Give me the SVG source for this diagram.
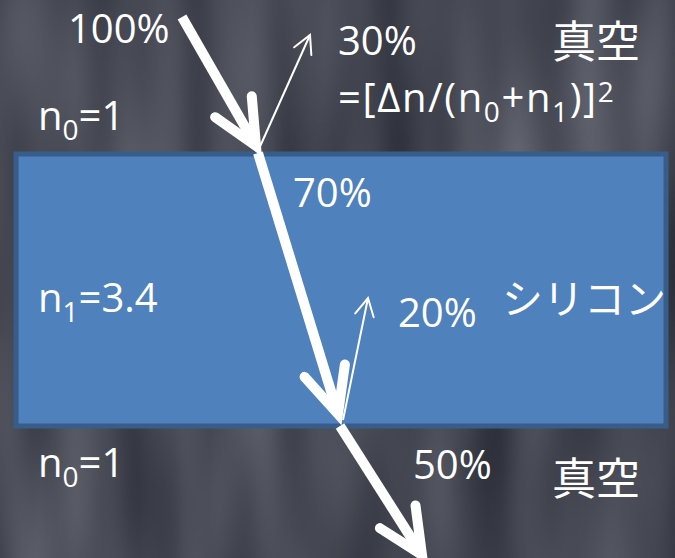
<svg xmlns="http://www.w3.org/2000/svg" width="675" height="558" viewBox="0 0 675 558">
<style>
  .t { font-family: "Open Sans", "Noto Sans", "Liberation Sans", sans-serif; font-size: 40px; fill: #ffffff; }
  .j { font-family: "Noto Sans CJK JP", "Noto Sans", sans-serif; fill: #ffffff; }
  .thick { stroke: #ffffff; stroke-width: 10; fill: none; stroke-linecap: butt; }
  .thin { stroke: #ffffff; stroke-width: 2; fill: none; }
</style>
<defs>
  <filter id="tex" x="0" y="0" width="100%" height="100%" color-interpolation-filters="sRGB">
    <feTurbulence type="fractalNoise" baseFrequency="0.014 0.003" numOctaves="2" seed="7"/>
    <feColorMatrix type="matrix" values="0.32 0 0 0 0.115  0.32 0 0 0 0.125  0.32 0 0 0 0.165  0 0 0 0 1"/>
  </filter>
  <marker id="bigHead" markerUnits="userSpaceOnUse" orient="auto" overflow="visible" markerWidth="1" markerHeight="1" refX="0" refY="0">
    <path d="M -45.3 -21.1 L 0 0 L -45.3 21.1" fill="none" stroke="#ffffff" stroke-width="10" stroke-linecap="round" stroke-linejoin="miter"/>
  </marker>
  <marker id="smallHead" markerUnits="userSpaceOnUse" orient="auto" overflow="visible" markerWidth="1" markerHeight="1" refX="0" refY="0">
    <path d="M -17.7 -9.4 L 0 0 L -17.7 9.4" fill="none" stroke="#ffffff" stroke-width="2" stroke-linecap="round"/>
  </marker>
</defs>

<rect id="background" x="0" y="0" width="675" height="558" fill="#40444f" filter="url(#tex)"/>

<g id="silicon">
  <rect x="16" y="154" width="650" height="272" fill="#4f81bd" stroke="#385d8a" stroke-width="5"/>
</g>

<g id="connectors">
  <line class="thick" x1="182" y1="17" x2="256" y2="146" marker-end="url(#bigHead)"/>
  <line class="thin" x1="258" y1="151" x2="310" y2="35" marker-end="url(#smallHead)"/>
  <line class="thick" x1="258" y1="153" x2="338" y2="414" marker-end="url(#bigHead)"/>
  <line class="thin" x1="343" y1="420" x2="368" y2="298" marker-end="url(#smallHead)"/>
  <line class="thick" x1="340" y1="426" x2="422" y2="555" marker-end="url(#bigHead)"/>
</g>

<g id="label-100">
  <text class="t" x="68" y="43">100%</text>
</g>
<g id="label-30">
  <text class="t" x="338" y="55">30%</text>
</g>
<g id="label-formula">
  <text class="t" x="338" y="112" letter-spacing="1.6">=[Δn/(n<tspan font-size="28" dy="10">0</tspan><tspan dy="-10">+n</tspan><tspan font-size="28" dy="10">1</tspan><tspan dy="-10">)]</tspan><tspan font-size="28" dy="-10">2</tspan></text>
</g>
<g id="label-vacuum-top">
  <text class="j" x="552" y="58" font-size="44">真空</text>
</g>
<g id="label-n0-top">
  <text class="t" x="38" y="130">n<tspan font-size="28" dy="10">0</tspan><tspan dy="-10">=1</tspan></text>
</g>
<g id="label-70">
  <text class="t" x="293" y="207">70%</text>
</g>
<g id="label-n1">
  <text class="t" x="38" y="312">n<tspan font-size="28" dy="10">1</tspan><tspan dy="-10">=3.4</tspan></text>
</g>
<g id="label-20">
  <text class="t" x="398" y="327">20%</text>
</g>
<g id="label-silicon">
  <text class="j" x="502" y="314" font-size="41">シリコン</text>
</g>
<g id="label-n0-bottom">
  <text class="t" x="38" y="477">n<tspan font-size="28" dy="10">0</tspan><tspan dy="-10">=1</tspan></text>
</g>
<g id="label-50">
  <text class="t" x="413" y="479">50%</text>
</g>
<g id="label-vacuum-bottom">
  <text class="j" x="552" y="495" font-size="44">真空</text>
</g>
</svg>
